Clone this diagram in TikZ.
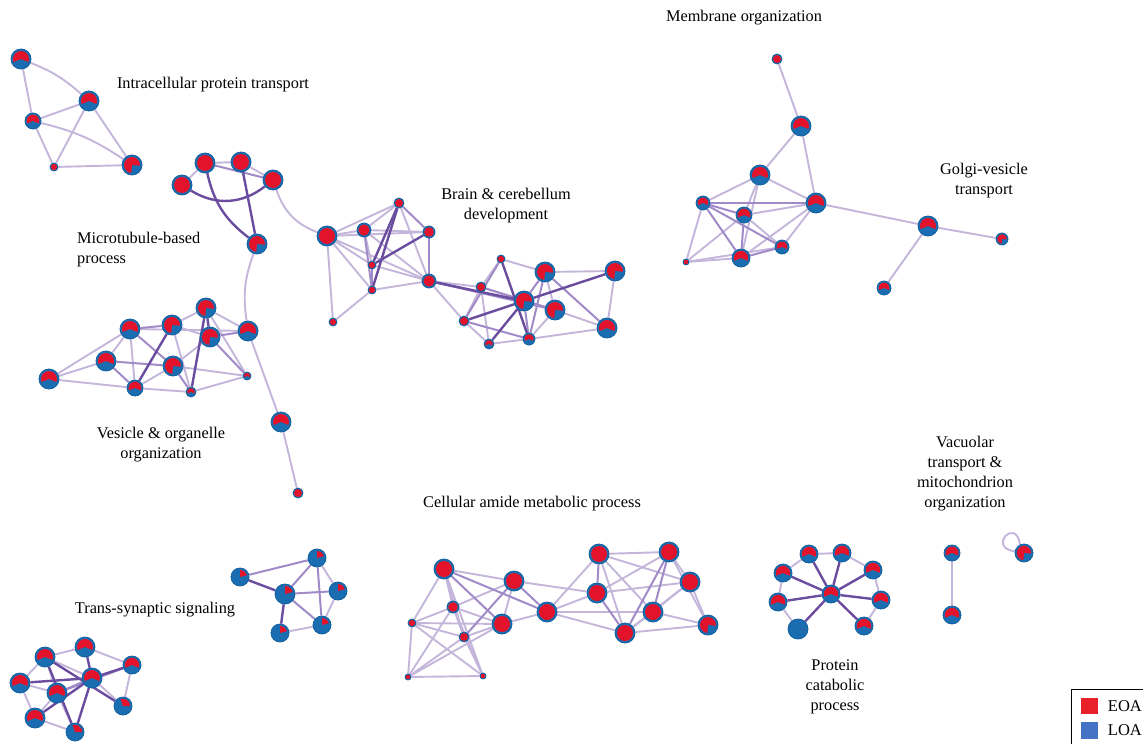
\documentclass[tikz,border=0pt]{standalone}
\usepackage{fontspec}
\setmainfont{Liberation Serif}
\usetikzlibrary{positioning,backgrounds}
\definecolor{Loa}{HTML}{1A6DB0}
\definecolor{LoaRim}{HTML}{10609F}
\definecolor{Eoa}{HTML}{E3132B}
\definecolor{KeyEoa}{HTML}{E8202A}
\definecolor{KeyLoa}{HTML}{4472C4}
\definecolor{LinkWeak}{HTML}{C4B6DA}
\definecolor{LinkMid}{HTML}{A08AC7}
\definecolor{LinkStrong}{HTML}{6B4DA0}
\tikzset{
  term/.style n args={3}{circle,fill=Loa,draw=LoaRim,line width=.8pt,inner sep=0pt,minimum size={2*#1pt},
    path picture={\fill[Eoa] (path picture bounding box.center) -- ++(#2:{0.8*#1pt})
      arc[start angle=#2,end angle=#3,radius={0.8*#1pt}] -- cycle;}},
  pfull/.style={term={#1}{0}{360}},
  phalf/.style={term={#1}{-22}{202}},
  pnotch/.style={term={#1}{-5}{265}},
  pslim/.style={term={#1}{15}{90}},
  pnone/.style={term={#1}{0}{0}},
  linkweak/.style={draw=LinkWeak,line width=1.9pt},
  linkmid/.style={draw=LinkMid,line width=2pt},
  linkstrong/.style={draw=LinkStrong,line width=2.4pt},
  topic/.style={font=\fontsize{16.3}{20}\selectfont,align=center,inner sep=0pt},
  keysq/.style={minimum size=16.5pt,inner sep=0pt},
  keytxt/.style={font=\fontsize{16.5}{20}\selectfont}
}
\begin{document}
\begin{tikzpicture}[x=1pt,y=-1pt]
\useasboundingbox (0,0) rectangle (1143,744);
% intracellular protein transport
\node[phalf=10] (a1) at (21,59) {};
\node[phalf=10] (a2) at (89,101) {};
\node[phalf=8] (a3) at (33,121) {};
\node[pfull=4] (a4) at (54,167) {};
\node[pnotch=10] (a5) at (132,165) {};
% microtubule-based process
\node[pfull=10] (b1) at (205,163) {};
\node[pfull=10] (b2) at (241,162) {};
\node[pfull=10] (b3) at (182,185) {};
\node[pfull=10] (b4) at (273,180) {};
\node[pnotch=10] (b5) at (257,244) {};
% vesicle & organelle organization
\node[pnotch=10] (v1) at (206,308) {};
\node[phalf=10] (v2) at (130,329) {};
\node[pnotch=10] (v3) at (172,325) {};
\node[pnotch=10] (v4) at (210,337) {};
\node[phalf=10] (v5) at (248,331) {};
\node[phalf=10] (v6) at (106,361) {};
\node[pnotch=10] (v7) at (173,366) {};
\node[phalf=10] (v8) at (49,379) {};
\node[phalf=8] (v9) at (135,388) {};
\node[phalf=5] (v10) at (191,392) {};
\node[phalf=4] (v11) at (247,376) {};
\node[phalf=10] (v12) at (281,422) {};
\node[pfull=5] (v13) at (298,493) {};
% brain & cerebellum development
\node[pfull=10] (c1) at (327,236) {};
\node[pfull=7] (c2) at (364,230) {};
\node[pfull=5] (c3) at (399,203) {};
\node[pfull=6] (c4) at (429,232) {};
\node[pfull=4] (c5) at (372,265) {};
\node[pfull=4] (c6) at (372,290) {};
\node[pfull=7] (c7) at (429,281) {};
\node[pfull=4] (c8) at (333,322) {};
\node[pfull=4] (c9) at (501,259) {};
\node[pfull=5] (c10) at (481,287) {};
\node[pnotch=10] (c11) at (545,272) {};
\node[pnotch=10] (c12) at (615,271) {};
\node[pnotch=10] (c13) at (524,301) {};
\node[pnotch=10] (c14) at (555,310) {};
\node[pfull=5] (c15) at (464,321) {};
\node[phalf=10] (c16) at (607,328) {};
\node[phalf=6] (c17) at (529,339) {};
\node[phalf=5] (c18) at (489,344) {};
% membrane organization, golgi-vesicle transport
\node[pfull=5] (m1) at (777,59) {};
\node[phalf=10] (m2) at (801,126) {};
\node[phalf=10] (m3) at (760,175) {};
\node[phalf=7] (m4) at (703,203) {};
\node[phalf=10] (m5) at (816,203) {};
\node[phalf=8] (m6) at (744,215) {};
\node[phalf=7] (m7) at (782,247) {};
\node[phalf=9] (m8) at (741,258) {};
\node[pfull=3] (m9) at (686,262) {};
\node[phalf=10] (g1) at (928,226) {};
\node[pnotch=6] (g2) at (1002,239) {};
\node[phalf=7] (g3) at (884,288) {};
% trans-synaptic signaling
\node[pslim=9] (t1) at (317,558) {};
\node[pslim=9] (t2) at (240,577) {};
\node[pslim=10] (t3) at (285,594) {};
\node[pslim=9] (t4) at (338,591) {};
\node[pslim=9] (t5) at (322,625) {};
\node[pslim=9] (t6) at (280,633) {};
\node[phalf=10] (s1) at (45,657) {};
\node[phalf=10] (s2) at (85,647) {};
\node[phalf=9] (s3) at (132,665) {};
\node[phalf=10] (s4) at (20,683) {};
\node[phalf=10] (s5) at (92,678) {};
\node[phalf=10] (s6) at (57,693) {};
\node[phalf=10] (s7) at (35,718) {};
\node[term={9}{0}{110}] (s8) at (123,706) {};
\node[term={9}{0}{110}] (s9) at (75,732) {};
% cellular amide metabolic process
\node[pfull=10] (p1) at (444,569) {};
\node[pfull=10] (p2) at (514,581) {};
\node[pfull=10] (p3) at (599,554) {};
\node[pfull=10] (p4) at (669,552) {};
\node[pfull=10] (p5) at (690,582) {};
\node[pfull=10] (p6) at (597,593) {};
\node[pfull=6] (p7) at (453,607) {};
\node[pfull=4] (p8) at (412,623) {};
\node[pfull=10] (p9) at (502,624) {};
\node[pfull=10] (p10) at (547,612) {};
\node[pfull=5] (p11) at (464,637) {};
\node[pfull=10] (p12) at (653,612) {};
\node[pnotch=10] (p13) at (708,625) {};
\node[pfull=10] (p14) at (625,633) {};
\node[pfull=3] (p15) at (408,677) {};
\node[pfull=3] (p16) at (483,676) {};
% protein catabolic process
\node[phalf=9] (q1) at (809,554) {};
\node[phalf=9] (q2) at (842,553) {};
\node[phalf=9] (q3) at (783,573) {};
\node[phalf=9] (q4) at (873,570) {};
\node[phalf=9] (q5) at (831,594) {};
\node[phalf=9] (q6) at (778,602) {};
\node[phalf=9] (q7) at (881,600) {};
\node[pnone=10] (q8) at (798,629) {};
\node[phalf=9] (q9) at (864,626) {};
% vacuolar transport & mitochondrion organization
\node[phalf=8] (r1) at (952,553) {};
\node[phalf=9] (r2) at (952,615) {};
\node[pnotch=9] (r3) at (1024,553) {};

\begin{scope}[on background layer]
\foreach \u/\w in {a1/a3,a3/a4,a2/a4,a2/a5,a4/a5,a3/a2,b1/b2,b1/b3,b2/b4,v5/v12,v12/v13,
  v8/v2,v8/v6,v8/v9,v2/v6,v2/v9,v3/v1,v3/v4,v1/v5,v1/v11,v4/v7,v7/v9,v7/v11,v9/v10,v10/v11,v3/v10,v2/v5,
  c1/c2,c1/c3,c1/c4,c1/c5,c1/c6,c1/c8,c1/c7,c2/c3,c2/c4,c2/c5,c2/c7,c3/c7,c5/c7,c6/c7,c6/c8,c7/c10,c7/c15,
  c9/c10,c9/c11,c10/c13,c10/c15,c10/c18,c11/c12,c11/c14,c12/c16,c14/c16,c14/c17,c15/c18,c17/c18,c16/c17,
  m1/m2,m2/m3,m2/m5,m3/m4,m3/m5,m3/m6,m3/m8,m4/m9,m5/m6,m5/m7,m5/m8,m6/m7,m6/m9,m7/m9,m8/m9,m5/g1,g1/g2,g1/g3,
  t1/t4,t4/t5,t5/t6,s1/s2,s1/s4,s1/s6,s1/s5,s2/s3,s3/s8,s4/s6,s4/s7,s6/s7,s6/s9,s7/s9,s5/s8,
  p1/p7,p1/p8,p1/p2,p1/p11,p1/p16,p2/p7,p2/p9,p2/p6,p7/p8,p7/p9,p7/p11,p7/p15,p7/p16,p8/p9,p8/p11,p8/p15,
  p8/p16,p9/p11,p9/p10,p9/p15,p11/p15,p11/p16,p15/p16,p10/p3,p10/p6,p10/p14,p10/p12,p3/p4,p3/p5,p3/p14,
  p3/p12,p4/p5,p4/p13,p4/p6,p5/p6,p5/p12,p5/p13,p5/p14,p12/p14,p12/p13,p14/p13,
  q1/q2,q1/q3,q2/q4,q3/q6,q4/q7,q7/q9,q6/q8,r1/r2}
  \draw[linkweak] (\u) -- (\w);
\foreach \u/\w in {b1/b4,v2/v3,v2/v7,v6/v7,v4/v5,v4/v11,v7/v10,v6/v9,
  c2/c6,c3/c4,c4/c7,c5/c6,c7/c14,c9/c15,c10/c14,c11/c13,c11/c16,c11/c17,c13/c14,c13/c17,c15/c17,
  m4/m5,m4/m6,m4/m7,m4/m8,m6/m8,m7/m8,t2/t1,t3/t1,t3/t4,t3/t5,t1/t5,s5/s6,s6/s3,
  p1/p9,p1/p10,p2/p11,p2/p10,p3/p6,p4/p12,p4/p14,p6/p14}
  \draw[linkmid] (\u) -- (\w);
\foreach \u/\w in {b2/b5,v3/v9,v1/v4,v1/v10,c3/c5,c3/c6,c4/c5,c7/c13,c9/c17,c12/c13,c13/c15,c13/c18,
  t2/t3,t3/t6,s1/s8,s1/s9,s2/s5,s3/s5,s4/s5,s5/s7,s5/s9,
  q5/q1,q5/q2,q5/q3,q5/q4,q5/q6,q5/q7,q5/q8,q5/q9}
  \draw[linkstrong] (\u) -- (\w);
\draw[linkweak] (a1) to[bend left=10] (a2);
\draw[linkweak] (a3) to[bend left=10] (a5);
\draw[linkstrong] (b3) to[bend right=35] (b4);
\draw[linkstrong] (b1) to[bend right=20] (b5);
\draw[linkweak] (b4) to[bend right=25] (c1);
\draw[linkweak] (b5) to[bend right=14] (v5);
\draw[linkweak] (r3.115) .. controls +(-4,-28) and +(-28,-4) .. (r3.170);
\end{scope}

\node[topic] (lbintra) at (213,85) {Intracellular protein transport};
\node[topic] (lbmemb) at (744,18) {Membrane organization};
\node[topic] (lbgolgi) at (984,181) {Golgi-vesicle\\transport};
\node[topic] (lbbrain) at (506,206) {Brain \& cerebellum\\development};
\node[topic,align=left,anchor=west] (lbmicro) at (77,250) {Microtubule-based\\process};
\node[topic] (lbvesi) at (161,445) {Vesicle \& organelle\\organization};
\node[topic] (lbamide) at (532,504) {Cellular amide metabolic process};
\node[topic] (lbvacu) at (965,474) {Vacuolar\\transport \&\\mitochondrion\\organization};
\node[topic] (lbtrans) at (155,610) {Trans-synaptic signaling};
\node[topic] (lbcata) at (835,687) {Protein\\catabolic\\process};

\draw[line width=.8pt] (1071,744) |- (1143,689);
\node[keysq,fill=KeyEoa] (keye) at (1089.5,706) {};
\node[keysq,fill=KeyLoa] (keyl) at (1089.5,730.5) {};
\node[keytxt,right=6.5pt of keye] (keyetxt) {EOA};
\node[keytxt,right=6.5pt of keyl] (keyltxt) {LOA};
\end{tikzpicture}
\end{document}
